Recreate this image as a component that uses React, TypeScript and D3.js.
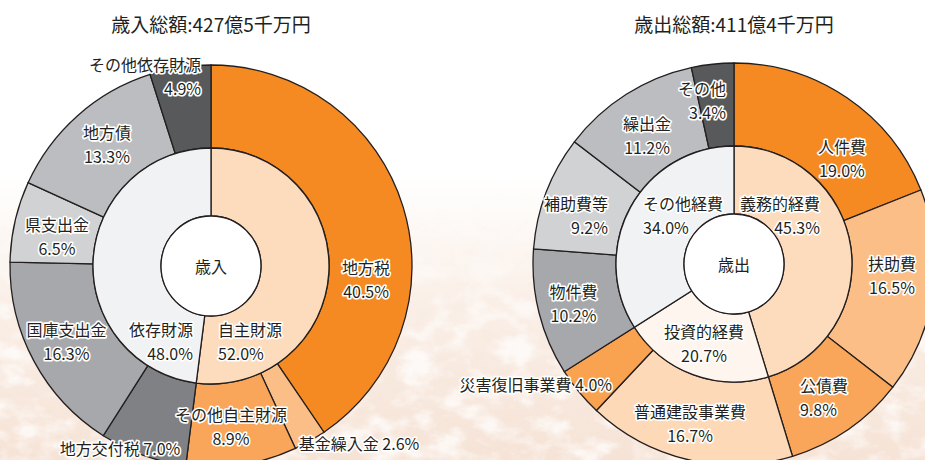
import React from "react";
import * as d3 from "d3";

// ---------- data ----------
const revenueTitle = "歳入総額:427億5千万円";
const revenueCenter = "歳入";
const revenueInnerNames = ["自主財源", "依存財源"];
const revenueInnerValues = [52.0, 48.0];
const revenueOuterNames = ["地方税", "基金繰入金", "その他自主財源", "地方交付税", "国庫支出金", "県支出金", "地方債", "その他依存財源"];
const revenueOuterValues = [40.5, 2.6, 8.9, 7.0, 16.3, 6.5, 13.3, 4.9];

const expenseTitle = "歳出総額:411億4千万円";
const expenseCenter = "歳出";
const expenseInnerNames = ["義務的経費", "投資的経費", "その他経費"];
const expenseInnerValues = [45.3, 20.7, 34.0];
const expenseOuterNames = ["人件費", "扶助費", "公債費", "普通建設事業費", "災害復旧事業費", "物件費", "補助費等", "繰出金", "その他"];
const expenseOuterValues = [19.0, 16.5, 9.8, 16.7, 4.0, 10.2, 9.2, 11.2, 3.4];

// ---------- styles ----------
const revenueInnerColors = ["#FDDCBE", "#F1F2F4"];
const revenueOuterColors = ["#F58A22", "#FBBE87", "#F9A65A", "#808184", "#A7A8AB", "#D1D2D4", "#BCBDC0", "#58595B"];
const expenseInnerColors = ["#FDDCBE", "#FEF5EE", "#F1F2F4"];
const expenseOuterColors = ["#F58A22", "#FBBE87", "#F9A65A", "#FDD9B8", "#F9A24F", "#A7A8AB", "#D1D2D4", "#BCBDC0", "#58595B"];

type Nudge = { dx: number; dy: number; anchor: "start" | "middle" | "end"; inline?: boolean };
const revenueOuterNudges: Nudge[] = [
  { dx: 2.6, dy: 59.4, anchor: "middle" },
  { dx: 69.4, dy: 38.2, anchor: "middle", inline: true },
  { dx: -4.5, dy: 2.4, anchor: "middle" },
  { dx: -37, dy: 31.8, anchor: "middle", inline: true },
  { dx: -4, dy: -0.5, anchor: "middle" },
  { dx: 1.5, dy: 4.8, anchor: "middle" },
  { dx: 1.8, dy: -2.7, anchor: "middle" },
  { dx: 14.5, dy: -32.4, anchor: "end" },
];
const revenueInnerNudges: Nudge[] = [
  { dx: -76.8, dy: 69.7, anchor: "start" },
  { dx: 65.8, dy: 80.3, anchor: "end" },
];
const expenseOuterNudges: Nudge[] = [
  { dx: 18.3, dy: 25.9, anchor: "middle" },
  { dx: 0.1, dy: -11.5, anchor: "middle" },
  { dx: -24.5, dy: 2.1, anchor: "start" },
  { dx: -7.7, dy: 3.7, anchor: "middle" },
  { dx: 0.9, dy: 18.3, anchor: "end", inline: true },
  { dx: -5.8, dy: 0.3, anchor: "middle" },
  { dx: 23, dy: 7.8, anchor: "end" },
  { dx: -1.5, dy: 5.7, anchor: "middle" },
  { dx: 9, dy: -5.9, anchor: "end" },
];
const expenseInnerNudges: Nudge[] = [
  { dx: 2.9, dy: -36.6, anchor: "end" },
  { dx: -0.8, dy: 0.7, anchor: "middle" },
  { dx: -17.4, dy: -8.5, anchor: "start" },
];

const W = 925;
const H = 460;
const R_OUT = 201;
const R_MID = 118;
const R_IN = 50;
const FONT = "'Noto Sans CJK JP', 'Noto Sans', sans-serif";
const INK = "#231F20";
const LINE_GAP = 24;

type Ring = { names: string[]; values: number[]; colors: string[]; nudges: Nudge[] };

function Label({ x, y, name, value, nudge }: { x: number; y: number; name: string; value: number; nudge: Nudge }) {
  const common = {
    fontFamily: FONT,
    fontSize: 16,
    fill: INK,
    stroke: "#ffffff",
    strokeWidth: 3.2,
    strokeLinejoin: "round" as const,
    paintOrder: "stroke",
    textAnchor: nudge.anchor,
    dominantBaseline: "central" as const,
  };
  const pct = value.toFixed(1) + "%";
  const lx = x + nudge.dx;
  const ly = y + nudge.dy;
  if (nudge.inline) {
    return (
      <text x={lx} y={ly} {...common}>
        {name + " " + pct}
      </text>
    );
  }
  return (
    <g>
      <text x={lx} y={ly - LINE_GAP / 2} {...common}>{name}</text>
      <text x={lx} y={ly + LINE_GAP / 2} {...common}>{pct}</text>
    </g>
  );
}

function Donut({ cx, cy, title, center, inner, outer }: { cx: number; cy: number; title: string; center: string; inner: Ring; outer: Ring }) {
  const pie = d3.pie<number>().sort(null).startAngle(0).endAngle(2 * Math.PI);
  const outerArcs = pie(outer.values);
  const innerArcs = pie(inner.values);
  const arcOuter = d3.arc<d3.PieArcDatum<number>>().innerRadius(R_MID).outerRadius(R_OUT);
  const arcInner = d3.arc<d3.PieArcDatum<number>>().innerRadius(R_IN).outerRadius(R_MID);
  return (
    <g>
      <text x={cx} y={23} textAnchor="middle" dominantBaseline="central" fontFamily={FONT} fontSize={19} fill={INK}>
        {title}
      </text>
      <g transform={`translate(${cx},${cy})`}>
        {outerArcs.map((a, i) => (
          <path key={"o" + i} d={arcOuter(a) || ""} fill={outer.colors[i]} stroke={INK} strokeWidth={1.3} />
        ))}
        {innerArcs.map((a, i) => (
          <path key={"i" + i} d={arcInner(a) || ""} fill={inner.colors[i]} stroke={INK} strokeWidth={1.3} />
        ))}
        <circle r={R_IN} fill="#ffffff" stroke={INK} strokeWidth={1.3} />
        <text x={0} y={0} textAnchor="middle" dominantBaseline="central" fontFamily={FONT} fontSize={16} fill={INK}>
          {center}
        </text>
        {outerArcs.map((a, i) => {
          const [x, y] = arcOuter.centroid(a);
          return <Label key={"lo" + i} x={x} y={y} name={outer.names[i]} value={outer.values[i]} nudge={outer.nudges[i]} />;
        })}
        {innerArcs.map((a, i) => {
          const [x, y] = arcInner.centroid(a);
          return <Label key={"li" + i} x={x} y={y} name={inner.names[i]} value={inner.values[i]} nudge={inner.nudges[i]} />;
        })}
      </g>
    </g>
  );
}

export default function App() {
  return (
    <svg width={W} height={H} viewBox={`0 0 ${W} ${H}`} style={{ position: "absolute", left: 0, top: 0, display: "block" }}>
      <defs>
        <linearGradient id="bgGrad" x1="0" y1="0" x2="0" y2="1">
          <stop offset="0" stopColor="#ffffff" />
          <stop offset="0.38" stopColor="#ffffff" />
          <stop offset="0.66" stopColor="#FAEFE7" />
          <stop offset="1" stopColor="#F6E3D6" />
        </linearGradient>
        <linearGradient id="maskGrad" x1="0" y1="0" x2="0" y2="1">
          <stop offset="0" stopColor="#000" />
          <stop offset="0.4" stopColor="#000" />
          <stop offset="0.75" stopColor="#fff" />
          <stop offset="1" stopColor="#fff" />
        </linearGradient>
        <mask id="texMask">
          <rect x={0} y={0} width={W} height={H} fill="url(#maskGrad)" />
        </mask>
        <filter id="whiteGrain" x="0" y="0" width="100%" height="100%">
          <feTurbulence type="fractalNoise" baseFrequency="0.03 0.05" numOctaves={4} seed={3} result="n" />
          <feColorMatrix in="n" type="matrix" values="0 0 0 0 1  0 0 0 0 1  0 0 0 0 1  3.2 0 0 0 -1.35" />
        </filter>
        <filter id="peachGrain" x="0" y="0" width="100%" height="100%">
          <feTurbulence type="fractalNoise" baseFrequency="0.06 0.085" numOctaves={4} seed={11} result="n" />
          <feColorMatrix in="n" type="matrix" values="0 0 0 0 0.94  0 0 0 0 0.80  0 0 0 0 0.70  0 3.5 0 0 -1.85" />
        </filter>
      </defs>
      <rect x={0} y={0} width={W} height={H} fill="url(#bgGrad)" />
      <g mask="url(#texMask)">
        <rect x={0} y={0} width={W} height={H} filter="url(#peachGrain)" opacity={0.3} />
        <rect x={0} y={0} width={W} height={H} filter="url(#whiteGrain)" opacity={0.7} />
      </g>
      <Donut
        cx={211}
        cy={266}
        title={revenueTitle}
        center={revenueCenter}
        inner={{ names: revenueInnerNames, values: revenueInnerValues, colors: revenueInnerColors, nudges: revenueInnerNudges }}
        outer={{ names: revenueOuterNames, values: revenueOuterValues, colors: revenueOuterColors, nudges: revenueOuterNudges }}
      />
      <Donut
        cx={734}
        cy={264}
        title={expenseTitle}
        center={expenseCenter}
        inner={{ names: expenseInnerNames, values: expenseInnerValues, colors: expenseInnerColors, nudges: expenseInnerNudges }}
        outer={{ names: expenseOuterNames, values: expenseOuterValues, colors: expenseOuterColors, nudges: expenseOuterNudges }}
      />
    </svg>
  );
}
